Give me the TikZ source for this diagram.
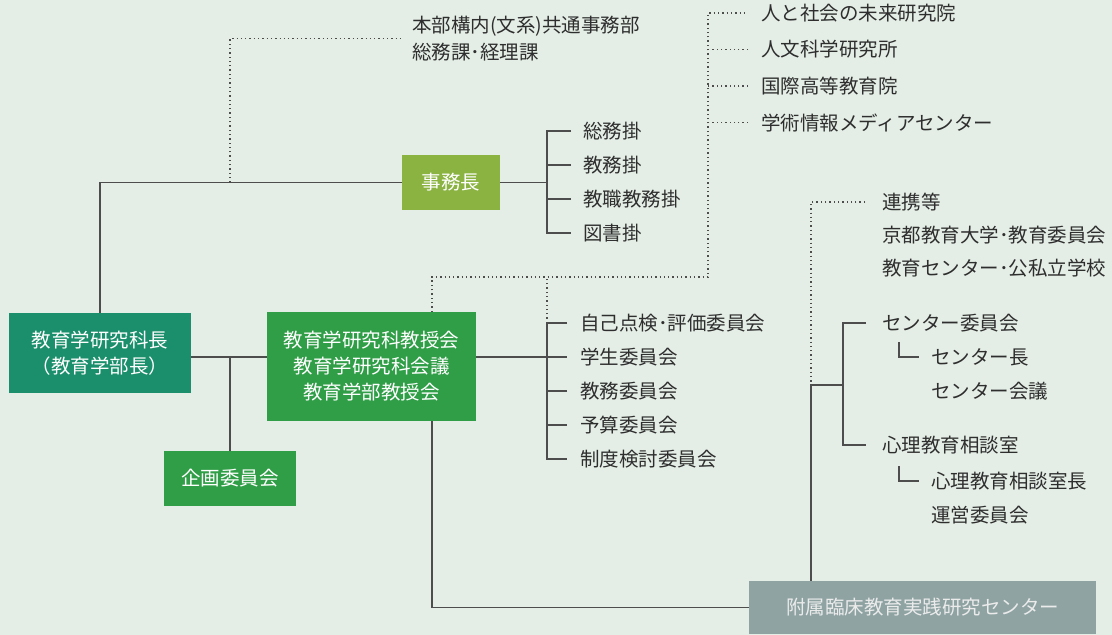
\documentclass[tikz,border=0pt]{standalone}
\usepackage{fontspec}
\setmainfont{Noto Sans CJK JP}
\definecolor{bgc}{HTML}{E4EEE6}
\definecolor{deanc}{HTML}{1B8F6B}
\definecolor{greenc}{HTML}{2F9E47}
\definecolor{jimuc}{HTML}{8AB342}
\definecolor{centerc}{HTML}{8FA3A3}
\definecolor{inkc}{HTML}{2E2E2E}
\tikzset{
    box/.style={rectangle, inner sep=0pt, align=center, text=white},
    deanbox/.style={box, fill=deanc, minimum width=182pt, minimum height=80pt},
    greenbox/.style={box, fill=greenc},
    jimubox/.style={box, fill=jimuc, minimum width=98pt, minimum height=55pt},
    centerbox/.style={box, fill=centerc, minimum width=347pt, minimum height=53pt, text=white!92!black},
    item/.style={anchor=west, inner sep=0pt, align=left, text=inkc},
    wire/.style={draw=inkc!85, line width=1.3pt},
    dots/.style={draw=inkc!85, line width=1.3pt, dash pattern=on 1.3pt off 3pt}
}

\begin{document}
\begin{tikzpicture}[x=1pt, y=-1pt, font=\fontsize{19.5}{26}\selectfont]
    \fill[bgc] (0,0) rectangle (1112,635);
    \useasboundingbox (0,0) rectangle (1112,635);

    % boxes
    \node[deanbox] (dean) at (100,353) {教育学研究科長\\（教育学部長）};
    \node[greenbox, minimum width=209pt, minimum height=109pt] (kyoju) at (371.5,366.5)
        {教育学研究科教授会\\教育学研究科会議\\教育学部教授会};
    \node[greenbox, minimum width=132pt, minimum height=55pt] (kikaku) at (230,478.5) {企画委員会};
    \node[jimubox] (jimu) at (451,182.5) {事務長};
    \node[centerbox] (fuzoku) at (922.5,607.5) {附属臨床教育実践研究センター};

    % labels
    \node[item, font=\fontsize{19.5}{27}\selectfont] (hq) at (412,38.5) {本部構内(文系)共通事務部\\総務課･経理課};
    \foreach \t [count=\i] in {総務掛,教務掛,教職教務掛,図書掛}
        \node[item] (s\i) at (583,97+34*\i) {\t};
    \foreach \t [count=\i] in {自己点検･評価委員会,学生委員会,教務委員会,予算委員会,制度検討委員会}
        \node[item] (c\i) at (580,289+34*\i) {\t};
    \foreach \t [count=\i] in {人と社会の未来研究院,人文科学研究所,国際高等教育院,学術情報メディアセンター}
        \node[item] (r\i) at (761,-23.5+36.5*\i) {\t};
    \foreach \t [count=\i] in {連携等,京都教育大学･教育委員会,教育センター･公私立学校}
        \node[item] (p\i) at (882,169+33*\i) {\t};
    \node[item] (ce) at (882,323) {センター委員会};
    \node[item] (ce1) at (931,357) {センター長};
    \node[item] (ce2) at (931,391) {センター会議};
    \node[item] (ps) at (882,445) {心理教育相談室};
    \node[item] (ps1) at (931,481) {心理教育相談室長};
    \node[item] (ps2) at (931,515) {運営委員会};

    \coordinate (jbr) at (230,182.5);
    \coordinate (ku) at (432,277);
    \coordinate (fj) at (811,385);

    % solid connectors
    \draw[wire] (dean.north) |- (jimu.west);
    \draw[wire] (jimu.east) -- ([xshift=-36pt]s1.west |- jimu.east);
    \draw[wire] ([xshift=-12pt]s1.west) -- ++(-24,0) |- ([xshift=-12pt]s4.west);
    \foreach \i in {2,3}
        \draw[wire] ([xshift=-12pt]s\i.west) -- ++(-24,0);
    \draw[wire] (dean.east |- c2) -- (kyoju.west |- c2);
    \draw[wire] (kikaku.north) -- (kikaku.north |- c2);
    \draw[wire] (kyoju.east |- c2) -- ([xshift=-13pt]c2.west);
    \draw[wire] ([xshift=-13pt]c1.west) -- ++(-20,0) |- ([xshift=-13pt]c5.west);
    \foreach \i in {3,4}
        \draw[wire] ([xshift=-13pt]c\i.west) -- ++(-20,0);
    \draw[wire] (kyoju.south -| ku) |- (fuzoku.west);
    \draw[wire] (fuzoku.north -| fj) -- (fj) -- ([xshift=-39pt]ce.west |- fj);
    \draw[wire] ([xshift=-16pt]ce.west) -- ++(-23,0) |- ([xshift=-16pt]ps.west);
    \draw[wire] ([xshift=-32pt]ce1.west) ++(0,-15) |- ([xshift=-12pt]ce1.west);
    \draw[wire] ([xshift=-32pt]ps1.west) ++(0,-15) |- ([xshift=-12pt]ps1.west);

    % dotted connectors
    \draw[dots] (jbr) |- ([xshift=-12pt]hq.west);
    \draw[dots] (kyoju.north -| ku) -- (ku) -| ([xshift=-53pt]r1.west) -- ([xshift=-13pt]r1.west);
    \foreach \i in {2,3,4}
        \draw[dots] ([xshift=-13pt]r\i.west) -- ++(-40,0);
    \draw[dots] ([xshift=-33pt]c1.west) -- ([xshift=-33pt]c1.west |- ku);
    \draw[dots] ([xshift=-17pt]p1.west) -| (fj);
\end{tikzpicture}
\end{document}
